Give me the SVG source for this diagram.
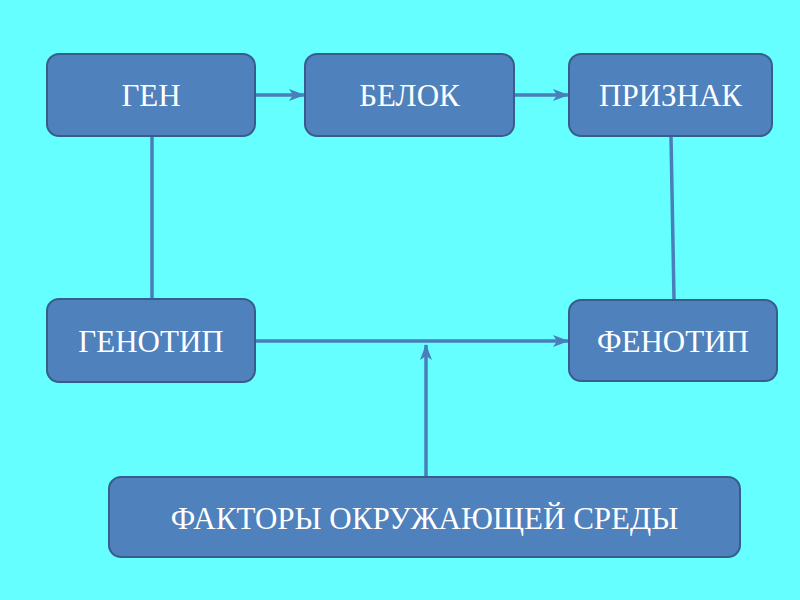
<svg xmlns="http://www.w3.org/2000/svg" width="800" height="600" viewBox="0 0 800 600">
<defs>
<style>
.box{fill:#4F81BD;stroke:#385D8A;stroke-width:2}
.lbl{font-family:"Liberation Serif","Times New Roman",serif;font-size:31px;fill:#FFFFFF;text-anchor:middle}
.ln{stroke:#4A7EBB;stroke-width:3.5;fill:none}
</style>
<marker id="ah" viewBox="0 0 16 12" refX="15" refY="6" markerWidth="16" markerHeight="12" markerUnits="userSpaceOnUse" orient="auto">
<path d="M0,0 L16,6 L0,12 L4,6 Z" fill="#4A7EBB"/>
</marker>
</defs>
<rect width="800" height="600" fill="#66FFFF"/>
<g id="connectors">
<line class="ln" x1="256" y1="95" x2="304" y2="95" marker-end="url(#ah)"/>
<line class="ln" x1="515" y1="95" x2="568" y2="95" marker-end="url(#ah)"/>
<line class="ln" x1="152" y1="137" x2="152" y2="299"/>
<line class="ln" x1="671" y1="137" x2="674" y2="299"/>
<line class="ln" x1="256" y1="341" x2="568" y2="341" marker-end="url(#ah)"/>
<line class="ln" x1="426" y1="476" x2="426" y2="345" marker-end="url(#ah)"/>
</g>
<g id="gen"><rect class="box" x="47" y="54" width="208" height="82" rx="12"/><text class="lbl" x="151" y="106">ГЕН</text></g>
<g id="belok"><rect class="box" x="305" y="54" width="209" height="82" rx="12"/><text class="lbl" x="409.5" y="106">БЕЛОК</text></g>
<g id="priznak"><rect class="box" x="569" y="54" width="203" height="82" rx="12"/><text class="lbl" x="670.5" y="106">ПРИЗНАК</text></g>
<g id="genotip"><rect class="box" x="47" y="299" width="208" height="83" rx="12"/><text class="lbl" x="151" y="352">ГЕНОТИП</text></g>
<g id="fenotip"><rect class="box" x="569" y="300" width="208" height="81" rx="12"/><text class="lbl" x="673" y="352">ФЕНОТИП</text></g>
<g id="faktory"><rect class="box" x="109" y="477" width="631" height="80" rx="12"/><text class="lbl" x="424.5" y="529">ФАКТОРЫ ОКРУЖАЮЩЕЙ СРЕДЫ</text></g>
</svg>
